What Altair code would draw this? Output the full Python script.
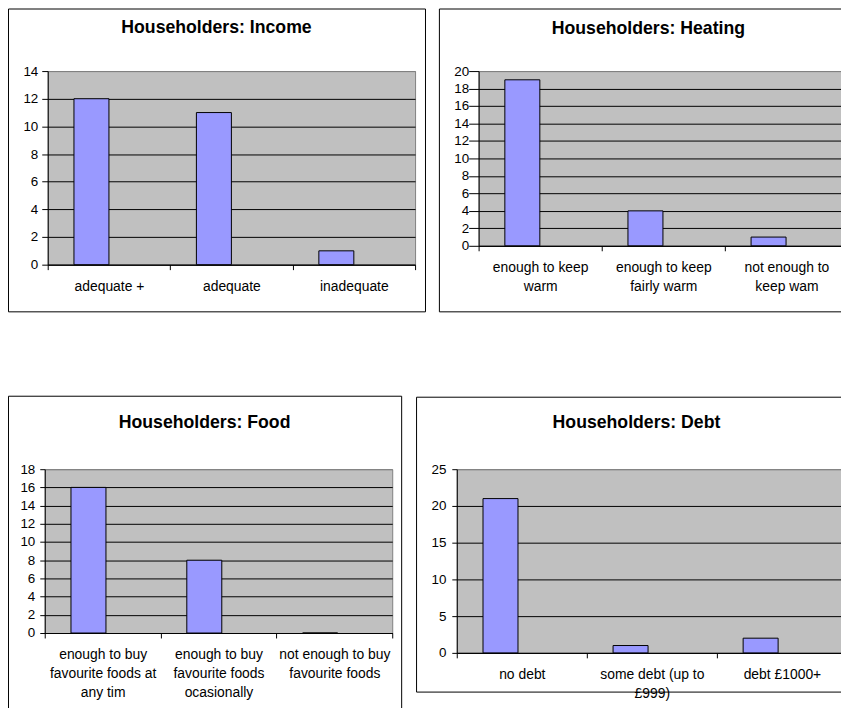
import altair as alt
import pandas as pd

# ---------------- data ----------------
income_cats = ["adequate +", "adequate", "inadequate"]
income_vals = [12, 11, 1]

heating_cats = ["enough to keep\nwarm", "enough to keep\nfairly warm", "not enough to\nkeep wam"]
heating_vals = [19, 4, 1]

food_cats = ["enough to buy\nfavourite foods at\nany tim",
             "enough to buy\nfavourite foods\nocasionally",
             "not enough to buy\nfavourite foods"]
food_vals = [16, 8, 0]

debt_cats = ["no debt", "some debt (up to\n£999)", "debt £1000+"]
debt_vals = [21, 1, 2]

FONT = "Liberation Sans, Arial, sans-serif"


def panel(cats, vals, title, ymax, ystep, w, h, frame, title_pos,
          ytick, ypad, yfont, series_domain):
    df = pd.DataFrame({"cat": cats, "val": vals, "series": series_domain[0]})
    grid_cond = {"condition": {"test": f"datum.value >= {ymax}", "value": "#808080"},
                 "value": "black"}
    bars = alt.Chart(df).mark_bar(color="#9999FF", stroke="black", strokeWidth=1).encode(
        x=alt.X("cat:N", sort=cats,
                scale=alt.Scale(paddingInner=0, paddingOuter=0),
                axis=alt.Axis(title=None, labelAngle=0, tickBand="extent", grid=False,
                              labelExpr="split(datum.label, '\\n')",
                              labelLineHeight=19, labelFontSize=14, labelPadding=10,
                              tickSize=5, labelOverlap=False)),
        xOffset=alt.XOffset("series:N",
                            scale=alt.Scale(domain=series_domain, paddingInner=0,
                                            paddingOuter=0.75)),
        y=alt.Y("val:Q", scale=alt.Scale(domain=[0, ymax], nice=False),
                axis=alt.Axis(title=None, values=list(range(0, ymax + 1, ystep)),
                              tickSize=ytick, labelPadding=ypad, labelFontSize=yfont,
                              gridColor=grid_cond, gridWidth=1, gridOpacity=1)),
    )
    fx1, fx2, fy1, fy2 = frame
    one = alt.Data(values=[{"f": 1}])
    box = alt.Chart(one).mark_rect(fillOpacity=0, stroke="black", strokeWidth=1).encode(
        x=alt.value(fx1), x2=alt.value(fx2), y=alt.value(fy1), y2=alt.value(fy2))
    tx, ty = title_pos
    ttl = alt.Chart(one).mark_text(text=title, font=FONT, fontSize=17.8, fontWeight="bold",
                                   align="center", baseline="alphabetic",
                                   color="black").encode(x=alt.value(tx), y=alt.value(ty))
    return alt.layer(box, ttl, bars).properties(width=w, height=h)


def spacer():
    # empty, practically zero-size cell so that each row starts at its outer frame
    return alt.Chart(alt.Data(values=[{"f": 1}])).mark_text(text="").encode(
        x=alt.value(0), y=alt.value(0)
    ).properties(width=0.001, height=0.001,
                 view=alt.ViewBackground(fill="transparent", stroke="transparent"))


p1 = panel(income_cats, income_vals, "Householders: Income", 14, 2, 370, 195,
           (-39.5, 380.5, -62.5, 242.5), (170, -38.7), 6, 4, 13.5,
           ["Series1", "Series2"])
p2 = panel(heating_cats, heating_vals, "Householders: Heating", 20, 2, 372, 176,
           (-39.5, 382.5, -62.5, 242.5), (171, -37.5), 10, 0, 13.5, ["Series1"])
p3 = panel(food_cats, food_vals, "Householders: Food", 18, 2, 350, 165,
           (-36.5, 359.5, -73.5, 244.5), (161, -41.3), 5, 5, 13.5, ["Series1"])
p4 = panel(debt_cats, debt_vals, "Householders: Debt", 25, 5, 393, 185,
           (-40.5, 403.5, -72.5, 224.5), (181, -41.3), 5, 6, 13.5, ["Series1"])

row1 = alt.hconcat(spacer(), alt.hconcat(p1, p2, spacing=11), spacing=0)
row2 = alt.hconcat(spacer(), alt.hconcat(p3, p4, spacing=12), spacing=0)

chart = alt.concat(row1, row2, columns=1, spacing=82, align="none").properties(
    padding={"left": -3, "top": -3, "right": -19, "bottom": -8}, background="white"
).configure_view(
    fill="#C0C0C0", stroke="#808080", strokeWidth=1
).configure_axis(
    labelFont=FONT, labelColor="black", domainColor="black", tickColor="black",
    domainWidth=1, tickWidth=1
)

chart.save("out.html", embed_options={"renderer": "svg", "actions": False})
